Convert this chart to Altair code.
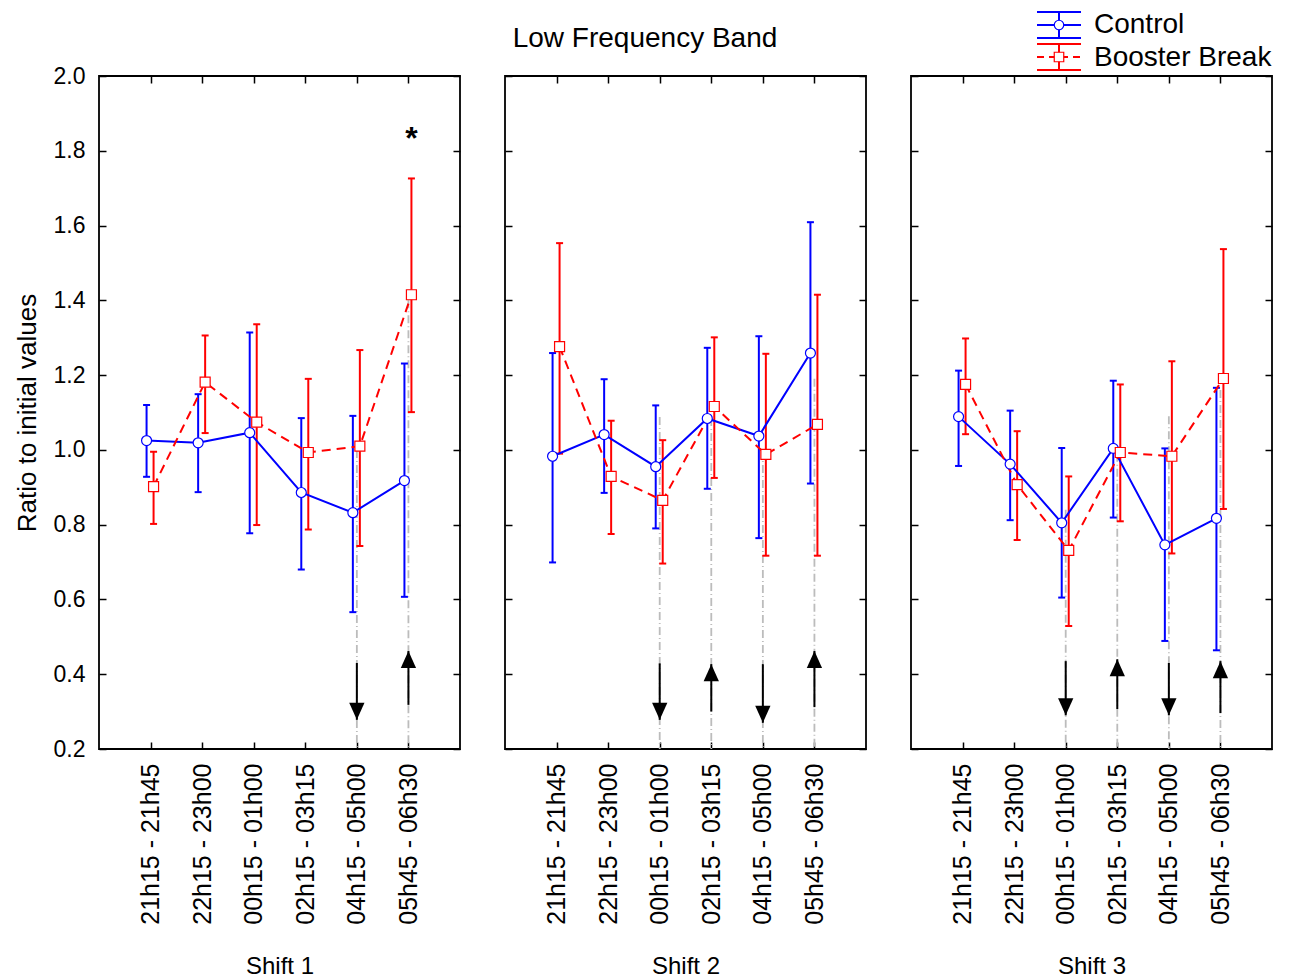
import altair as alt
import pandas as pd

# ---------------- data ----------------
times = ["21h15 - 21h45", "22h15 - 23h00", "00h15 - 01h00",
         "02h15 - 03h15", "04h15 - 05h00", "05h45 - 06h30"]
shift_titles = ["Shift 1", "Shift 2", "Shift 3"]
y_tick_values = [0.2, 0.4, 0.6, 0.8, 1.0, 1.2, 1.4, 1.6, 1.8, 2.0]
series_names = ["Control", "Booster Break"]
main_title = "Low Frequency Band"

# Shift 1
ctrl_mean_1 = [1.025, 1.019, 1.046, 0.886, 0.832, 0.918]
ctrl_hi_1 = [1.120, 1.149, 1.314, 1.085, 1.091, 1.231]
ctrl_lo_1 = [0.928, 0.887, 0.777, 0.680, 0.566, 0.607]
boost_mean_1 = [0.902, 1.181, 1.074, 0.993, 1.010, 1.415]
boost_hi_1 = [0.995, 1.306, 1.336, 1.190, 1.267, 1.726]
boost_lo_1 = [0.802, 1.045, 0.799, 0.787, 0.743, 1.101]

# Shift 2
ctrl_mean_2 = [0.983, 1.041, 0.955, 1.084, 1.037, 1.259]
ctrl_hi_2 = [1.259, 1.189, 1.119, 1.273, 1.304, 1.609]
ctrl_lo_2 = [0.699, 0.885, 0.790, 0.896, 0.764, 0.910]
boost_mean_2 = [1.276, 0.929, 0.865, 1.116, 0.988, 1.068]
boost_hi_2 = [1.553, 1.078, 1.026, 1.301, 1.257, 1.415]
boost_lo_2 = [0.990, 0.775, 0.696, 0.925, 0.717, 0.717]

# Shift 3
ctrl_mean_3 = [1.089, 0.962, 0.805, 1.004, 0.746, 0.817]
ctrl_hi_3 = [1.212, 1.105, 1.005, 1.185, 1.004, 1.166]
ctrl_lo_3 = [0.957, 0.812, 0.605, 0.819, 0.489, 0.464]
boost_mean_3 = [1.175, 0.907, 0.731, 0.993, 0.983, 1.191]
boost_hi_3 = [1.298, 1.050, 0.929, 1.175, 1.237, 1.537]
boost_lo_3 = [1.042, 0.759, 0.529, 0.809, 0.723, 0.842]

# guide lines (grey dash-dot) and arrows
guide_time_1 = [times[4], times[5]]
guide_top_1 = [1.00, 1.40]
arrow_dir_1 = ["down", "up"]
arrow_tail_1 = [0.430, 0.318]
arrow_tip_1 = [0.278, 0.462]

guide_time_2 = [times[2], times[3], times[4], times[5]]
guide_top_2 = [1.088, 1.085, 1.000, 1.190]
arrow_dir_2 = ["down", "up", "down", "up"]
arrow_tail_2 = [0.429, 0.300, 0.427, 0.312]
arrow_tip_2 = [0.278, 0.427, 0.270, 0.462]

guide_time_3 = [times[2], times[3], times[4], times[5]]
guide_top_3 = [0.840, 0.990, 1.090, 1.160]
arrow_dir_3 = ["down", "up", "down", "up"]
arrow_tail_3 = [0.435, 0.307, 0.430, 0.296]
arrow_tip_3 = [0.290, 0.440, 0.290, 0.435]

star_time = times[5]
star_value = 1.805

# ---------------- style ----------------
FONT = "Liberation Sans"
BLUE = "#0000ff"
RED = "#ff0000"
GREY = "#bcbcbc"
PW, PH = 361, 673
C_OFF, B_OFF = -4, 3
ARROW_DOWN = "M0,0 L-0.45,-1 L0.45,-1 Z"
ARROW_UP = "M0,0 L-0.45,1 L0.45,1 Z"

xscale = alt.Scale(type="point", domain=times, padding=1)
yscale = alt.Scale(domain=[0.2, 2.0], nice=False, zero=False)


def X(axis=None):
    return alt.X("time:N", scale=xscale, axis=axis, title=None)


def Y(field, axis=None):
    return alt.Y(f"{field}:Q", scale=yscale, axis=axis, title=None)


one = pd.DataFrame({"k": [0]})


def panel(idx, cm, chi, clo, bm, bhi, blo, gt, gtop, adir, atail, atip):
    first = idx == 0
    ctrl = pd.DataFrame({"time": times, "m": cm, "hi": chi, "lo": clo})
    boost = pd.DataFrame({"time": times, "m": bm, "hi": bhi, "lo": blo})
    guides = pd.DataFrame({"time": gt, "top": gtop,
                           "bottom": [y_tick_values[0]] * len(gt)})
    arrows = pd.DataFrame({"time": gt, "dir": adir, "tail": atail, "tip": atip})

    bottom_axis = alt.Axis(orient="bottom", labelAngle=270, labelFontSize=25,
                           labelPadding=14, tickSize=7, offset=-7, domain=False,
                           ticks=True, tickColor="black", tickWidth=1.5, grid=False,
                           title=shift_titles[idx], titleFontSize=24,
                           titleFontWeight="normal", titlePadding=30,
                           labelColor="black", titleColor="black", labelFont=FONT,
                           titleFont=FONT)
    left_kw = dict(orient="left", values=y_tick_values, format=".1f",
                   labelFontSize=23, labelPadding=14, tickSize=7, offset=-7,
                   domain=False, grid=False, tickColor="black", tickWidth=1.5,
                   labels=first, labelColor="black", labelFont=FONT)
    if first:
        left_kw.update(title="Ratio to initial values", titleFontSize=26,
                       titleFontWeight="normal", titlePadding=13,
                       titleColor="black", titleFont=FONT)
    else:
        left_kw.update(title=None)
    left_axis = alt.Axis(**left_kw)
    top_axis = alt.Axis(orient="top", labels=False, tickSize=7, offset=-7,
                        domain=False, grid=False, tickColor="black",
                        tickWidth=1.5, title=None)
    right_axis = alt.Axis(orient="right", values=y_tick_values, labels=False,
                          tickSize=7, offset=-7, domain=False, grid=False,
                          tickColor="black", tickWidth=1.5, title=None)

    layers = []
    # grey dash-dot guide lines
    layers.append(alt.Chart(guides).mark_rule(
        color=GREY, strokeWidth=1.8, strokeDash=[8, 3, 1, 3]).encode(
        x=X(), y=Y("top"), y2="bottom:Q"))
    # arrows
    layers.append(alt.Chart(arrows).mark_rule(color="black", strokeWidth=2).encode(
        x=X(), y=Y("tail"), y2="tip:Q"))
    layers.append(alt.Chart(arrows).mark_point(
        filled=True, fill="black", strokeWidth=0, opacity=1, size=1156).encode(
        x=X(), y=Y("tip"),
        shape=alt.Shape("dir:N", scale=alt.Scale(domain=["down", "up"],
                                                 range=[ARROW_DOWN, ARROW_UP]),
                        legend=None)))
    # control error bars (carry the main axes)
    layers.append(alt.Chart(ctrl).mark_rule(color=BLUE, strokeWidth=2,
                                            xOffset=C_OFF).encode(
        x=X(bottom_axis), y=Y("lo", left_axis), y2="hi:Q"))
    for f in ["lo", "hi"]:
        layers.append(alt.Chart(ctrl).mark_tick(color=BLUE, thickness=2, size=7,
                                                xOffset=C_OFF, orient="horizontal",
                                                opacity=1).encode(
            x=X(), y=Y(f)))
    # booster error bars
    layers.append(alt.Chart(boost).mark_rule(color=RED, strokeWidth=2,
                                             xOffset=B_OFF).encode(
        x=X(), y=Y("lo"), y2="hi:Q"))
    for f in ["lo", "hi"]:
        layers.append(alt.Chart(boost).mark_tick(color=RED, thickness=2, size=7,
                                                 xOffset=B_OFF, orient="horizontal",
                                                 opacity=1).encode(
            x=X(), y=Y(f)))
    # lines
    layers.append(alt.Chart(ctrl).mark_line(color=BLUE, strokeWidth=2,
                                            xOffset=C_OFF).encode(
        x=X(), y=Y("m"), order=alt.Order("order:Q")).transform_calculate(
        order="indexof(" + str(times) + ", datum.time)"))
    layers.append(alt.Chart(boost).mark_line(color=RED, strokeWidth=2,
                                             strokeDash=[9, 6],
                                             xOffset=B_OFF).encode(
        x=X(), y=Y("m"), order=alt.Order("order:Q")).transform_calculate(
        order="indexof(" + str(times) + ", datum.time)"))
    # markers
    layers.append(alt.Chart(ctrl).mark_point(shape="circle", filled=True,
                                             fill="white", stroke=BLUE,
                                             strokeWidth=1.2, size=100, opacity=1,
                                             xOffset=C_OFF).encode(
        x=X(), y=Y("m")))
    layers.append(alt.Chart(boost).mark_point(shape="square", filled=True,
                                              fill="white", stroke=RED,
                                              strokeWidth=1.2, size=100, opacity=1,
                                              xOffset=B_OFF).encode(
        x=X(), y=Y("m")))
    # mirrored top / right axes with inward ticks
    layers.append(alt.Chart(ctrl).mark_point(opacity=0).encode(
        x=X(top_axis), y=Y("m", right_axis)))

    if first:
        star = pd.DataFrame({"time": [star_time], "v": [star_value], "t": ["*"]})
        layers.append(alt.Chart(star).mark_text(
            fontSize=32, font=FONT, fontWeight="bold", color="black",
            baseline="alphabetic", align="center", dx=B_OFF).encode(
            x=X(), y=Y("v"), text="t:N"))
    if idx == 1:
        layers.append(alt.Chart(one).mark_text(
            fontSize=28, font=FONT, color="black", align="center",
            baseline="middle", text=main_title).encode(
            x=alt.value(140), y=alt.value(-37)))
    if idx == 2:
        # legend drawn by hand above the third panel
        def hrule(y, color, dash=None):
            kw = dict(color=color, strokeWidth=2)
            if dash:
                kw["strokeDash"] = dash
            return alt.Chart(one).mark_rule(**kw).encode(
                x=alt.value(126), x2=alt.value(170), y=alt.value(y))

        def vrule(y1, y2, color):
            return alt.Chart(one).mark_rule(color=color, strokeWidth=2).encode(
                x=alt.value(148), y=alt.value(y1), y2=alt.value(y2))

        layers += [hrule(-64, BLUE), hrule(-51, BLUE), hrule(-38, BLUE),
                   vrule(-64, -38, BLUE),
                   hrule(-32, RED), hrule(-19, RED, [7, 5]), hrule(-6, RED),
                   vrule(-32, -6, RED)]
        layers.append(alt.Chart(one).mark_point(
            shape="circle", filled=True, fill="white", stroke=BLUE,
            strokeWidth=1.2, size=90, opacity=1).encode(
            x=alt.value(148), y=alt.value(-51)))
        layers.append(alt.Chart(one).mark_point(
            shape="square", filled=True, fill="white", stroke=RED,
            strokeWidth=1.2, size=90, opacity=1).encode(
            x=alt.value(148), y=alt.value(-19)))
        layers.append(alt.Chart(one).mark_text(
            fontSize=28, font=FONT, color="black", align="left",
            baseline="middle", text=series_names[0]).encode(
            x=alt.value(183), y=alt.value(-51)))
        layers.append(alt.Chart(one).mark_text(
            fontSize=28, font=FONT, color="black", align="left",
            baseline="middle", text=series_names[1]).encode(
            x=alt.value(183), y=alt.value(-18)))

    return alt.layer(*layers).properties(width=PW, height=PH)


p1 = panel(0, ctrl_mean_1, ctrl_hi_1, ctrl_lo_1, boost_mean_1, boost_hi_1,
           boost_lo_1, guide_time_1, guide_top_1, arrow_dir_1, arrow_tail_1,
           arrow_tip_1)
p2 = panel(1, ctrl_mean_2, ctrl_hi_2, ctrl_lo_2, boost_mean_2, boost_hi_2,
           boost_lo_2, guide_time_2, guide_top_2, arrow_dir_2, arrow_tail_2,
           arrow_tip_2)
p3 = panel(2, ctrl_mean_3, ctrl_hi_3, ctrl_lo_3, boost_mean_3, boost_hi_3,
           boost_lo_3, guide_time_3, guide_top_3, arrow_dir_3, arrow_tail_3,
           arrow_tip_3)

chart = alt.hconcat(p1, p2, p3, spacing=41).properties(
    padding={"left": 13, "top": 10, "right": 5, "bottom": 0},
    autosize=alt.AutoSizeParams(type="pad"),
    background="white",
).configure(font=FONT).configure_view(stroke="black", strokeWidth=1.8)

chart.save("out.html", embed_options={"renderer": "svg", "actions": False})
